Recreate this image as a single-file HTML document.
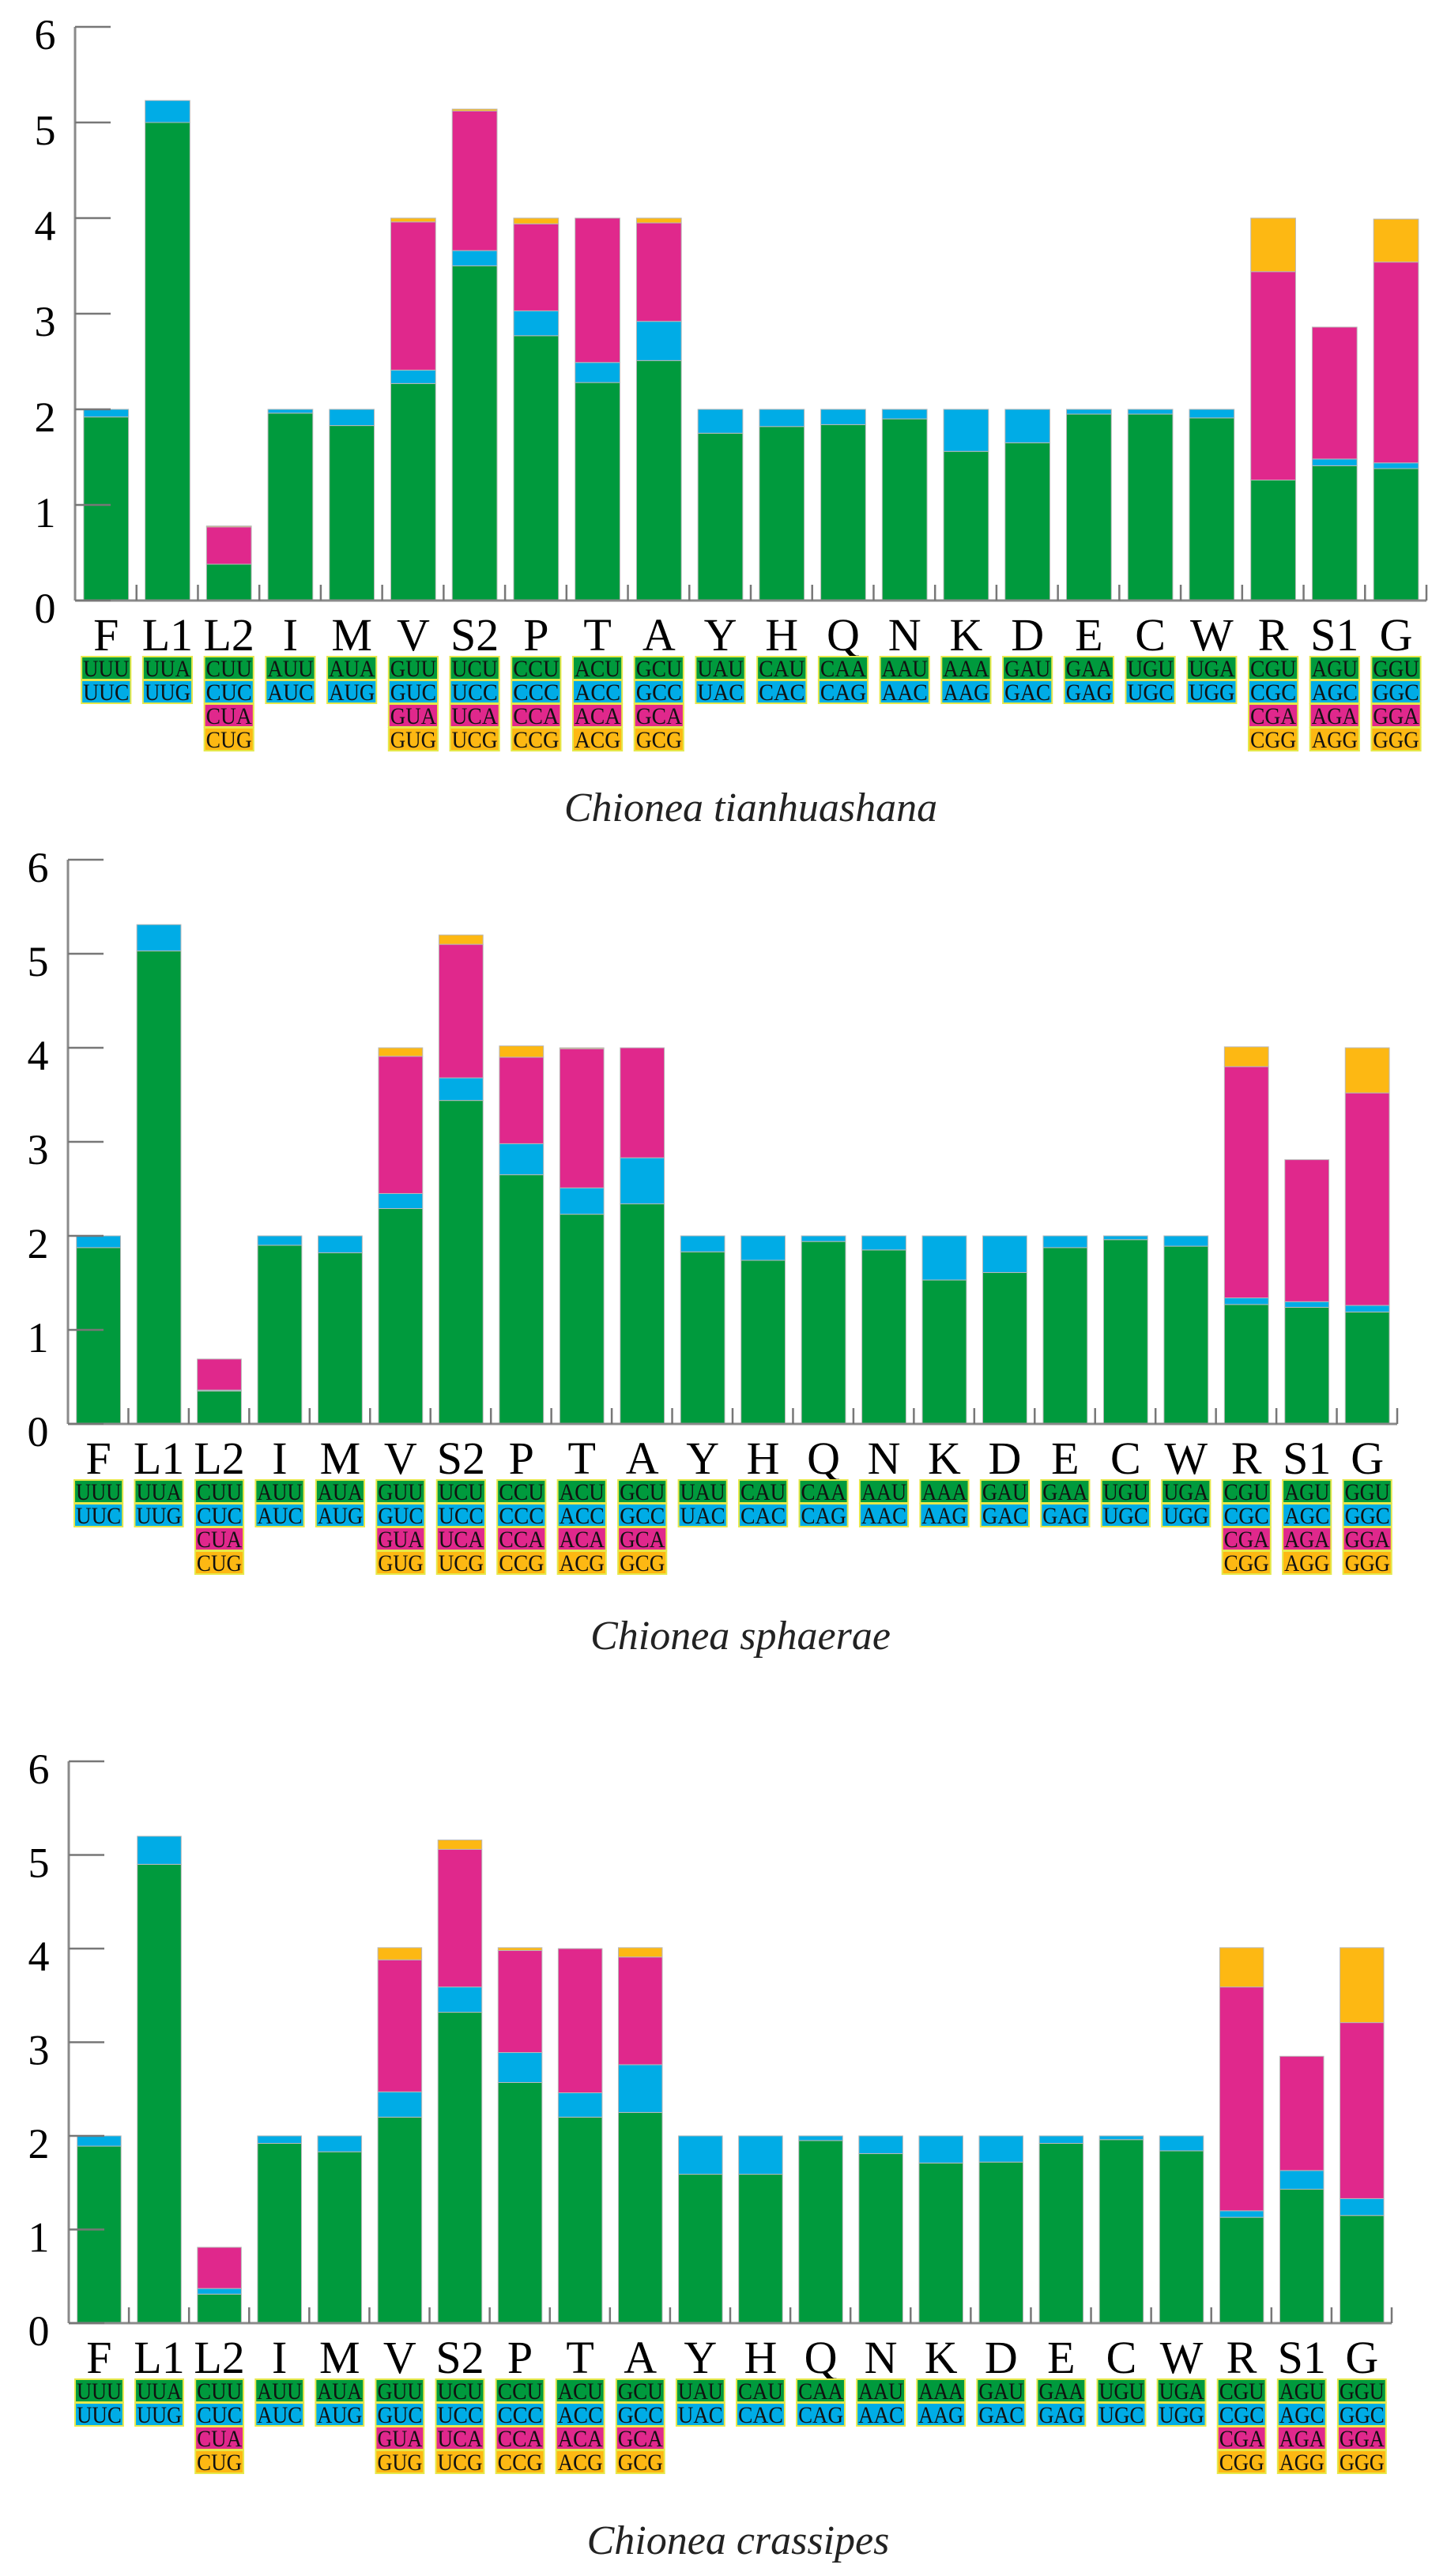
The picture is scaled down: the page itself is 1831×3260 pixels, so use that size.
<!DOCTYPE html>
<html><head><meta charset="utf-8">
<style>
html,body{margin:0;padding:0;background:#fff;}
svg{display:block;}
</style></head>
<body>
<svg id="fig" width="1831" height="3260" viewBox="0 0 1831 3260" xmlns="http://www.w3.org/2000/svg"></svg>
<script>
const categories = ["F","L1","L2","I","M","V","S2","P","T","A","Y","H","Q","N","K","D","E","C","W","R","S1","G"];
const codons = [["UUU","UUC"],["UUA","UUG"],["CUU","CUC","CUA","CUG"],["AUU","AUC"],["AUA","AUG"],["GUU","GUC","GUA","GUG"],["UCU","UCC","UCA","UCG"],["CCU","CCC","CCA","CCG"],["ACU","ACC","ACA","ACG"],["GCU","GCC","GCA","GCG"],["UAU","UAC"],["CAU","CAC"],["CAA","CAG"],["AAU","AAC"],["AAA","AAG"],["GAU","GAC"],["GAA","GAG"],["UGU","UGC"],["UGA","UGG"],["CGU","CGC","CGA","CGG"],["AGU","AGC","AGA","AGG"],["GGU","GGC","GGA","GGG"]];
const yTicks = [0,1,2,3,4,5,6];
const titles = ["Chionea tianhuashana","Chionea sphaerae","Chionea crassipes"];

const green1 = [1.92,5.0,0.38,1.96,1.83,2.27,3.5,2.77,2.28,2.51,1.75,1.82,1.84,1.90,1.56,1.65,1.95,1.95,1.91,1.26,1.41,1.38];
const blue1 = [0.08,0.23,0,0.04,0.17,0.14,0.16,0.26,0.21,0.41,0.25,0.18,0.16,0.10,0.44,0.35,0.05,0.05,0.09,0,0.07,0.06];
const magenta1 = [0,0,0.39,0,0,1.55,1.46,0.91,1.51,1.03,0,0,0,0,0,0,0,0,0,2.18,1.38,2.10];
const orange1 = [0,0,0.01,0,0,0.04,0.02,0.06,0,0.05,0,0,0,0,0,0,0,0,0,0.56,0,0.45];

const green2 = [1.875,5.03,0.35,1.90,1.82,2.29,3.44,2.65,2.23,2.34,1.83,1.74,1.94,1.85,1.53,1.61,1.875,1.96,1.89,1.27,1.24,1.19];
const blue2 = [0.125,0.28,0.01,0.10,0.18,0.16,0.24,0.33,0.28,0.49,0.17,0.26,0.06,0.15,0.47,0.39,0.125,0.04,0.11,0.07,0.06,0.07];
const magenta2 = [0,0,0.33,0,0,1.46,1.42,0.92,1.48,1.17,0,0,0,0,0,0,0,0,0,2.46,1.51,2.26];
const orange2 = [0,0,0,0,0,0.09,0.10,0.12,0.01,0,0,0,0,0,0,0,0,0,0,0.21,0,0.48];

const green3 = [1.89,4.90,0.31,1.92,1.83,2.20,3.32,2.57,2.20,2.25,1.59,1.59,1.95,1.81,1.71,1.72,1.92,1.96,1.84,1.13,1.43,1.15];
const blue3 = [0.11,0.30,0.06,0.08,0.17,0.27,0.27,0.32,0.26,0.51,0.41,0.41,0.05,0.19,0.29,0.28,0.08,0.04,0.16,0.07,0.20,0.18];
const magenta3 = [0,0,0.44,0,0,1.41,1.47,1.09,1.54,1.15,0,0,0,0,0,0,0,0,0,2.39,1.22,1.88];
const orange3 = [0,0,0,0,0,0.13,0.10,0.03,0,0.10,0,0,0,0,0,0,0,0,0,0.42,0,0.80];

const COLORS = ["#009a3d","#00ace6","#e0288c","#fdb813"];
const NS = "http://www.w3.org/2000/svg";
const svg = document.getElementById("fig");
function mk(tag, attrs, parent){const e=document.createElementNS(NS,tag);for(const k in attrs)e.setAttribute(k,attrs[k]);(parent||svg).appendChild(e);return e;}

function drawChart(idx, x0, x1, zeroY, unit, titleX, titleY, series){
  const g = mk("g",{});
  
  
  const slot = (x1 - x0) / categories.length;
  const bw = slot * 0.73, off = slot * 0.14;
  const yScale = v => zeroY - v * unit;
  const xScale = i => x0 + i * slot;
  categories.forEach((c, i) => {
    let acc = 0;
    const bx = xScale(i) + off;
    series.forEach((arr, s) => {
      const v = arr[i];
      if (v <= 0) return;
      const r = mk("rect",{x:bx,y:yScale(acc+v),width:bw,height:v*unit,fill:COLORS[s],stroke:"#b9b9b9","stroke-width":1},g);
      
      
      acc += v;
    });
    const t = mk("text",{x:bx+bw/2,y:zeroY+63,"text-anchor":"middle","font-family":"Liberation Serif, serif","font-size":58,fill:"#000"},g);
    t.textContent = c;
    
    
    const cw = slot * 0.8, cx = bx + bw/2 - cw/2;
    codons[i].forEach((cd, k) => {
      const by = zeroY + 71 + k*30;
      const b = mk("rect",{x:cx,y:by,width:cw,height:29,fill:COLORS[k],stroke:"#e6e84a","stroke-width":2},g);
      
      
      const ct = mk("text",{x:cx+cw/2,y:by+25,"text-anchor":"middle","font-family":"Liberation Serif, serif","font-size":30,textLength:cw-4,lengthAdjust:"spacingAndGlyphs",fill:"#111"},g);
      ct.textContent = cd;
      
      
    });
  });
  const ya = mk("line",{x1:x0,y1:yScale(6),x2:x0,y2:zeroY,stroke:"#8a8a8a","stroke-width":3},g);
  
  
  const xa = mk("line",{x1:x0,y1:zeroY,x2:x1,y2:zeroY,stroke:"#8a8a8a","stroke-width":3},g);
  
  
  for (let i = 1; i <= categories.length; i++) {
    const tk = mk("line",{x1:xScale(i),y1:zeroY,x2:xScale(i),y2:zeroY-20,stroke:"#777","stroke-width":2.5},g);
    
    
  }
  yTicks.forEach(v => {
    const tk = mk("line",{x1:x0,y1:yScale(v),x2:x0+45,y2:yScale(v),stroke:"#777","stroke-width":2.5},g);
    
    
    const tl = mk("text",{x:x0-38,y:yScale(v)+28,"text-anchor":"middle","font-family":"Liberation Serif, serif","font-size":54,fill:"#000"},g);
    tl.textContent = String(v);
    
    
  });
  const tt = mk("text",{x:titleX,y:titleY+17,"text-anchor":"middle","font-family":"Liberation Serif, serif","font-style":"italic","font-size":52,fill:"#222"},g);
  tt.textContent = titles[idx];
  
  
}

drawChart(0, 95, 1805, 760, 121, 950, 1022, [green1, blue1, magenta1, orange1]);
drawChart(1, 86, 1768, 1802, 119, 937, 2070, [green2, blue2, magenta2, orange2]);
drawChart(2, 87, 1761, 2940, 118.5, 934, 3215, [green3, blue3, magenta3, orange3]);
</script>
</body></html>
